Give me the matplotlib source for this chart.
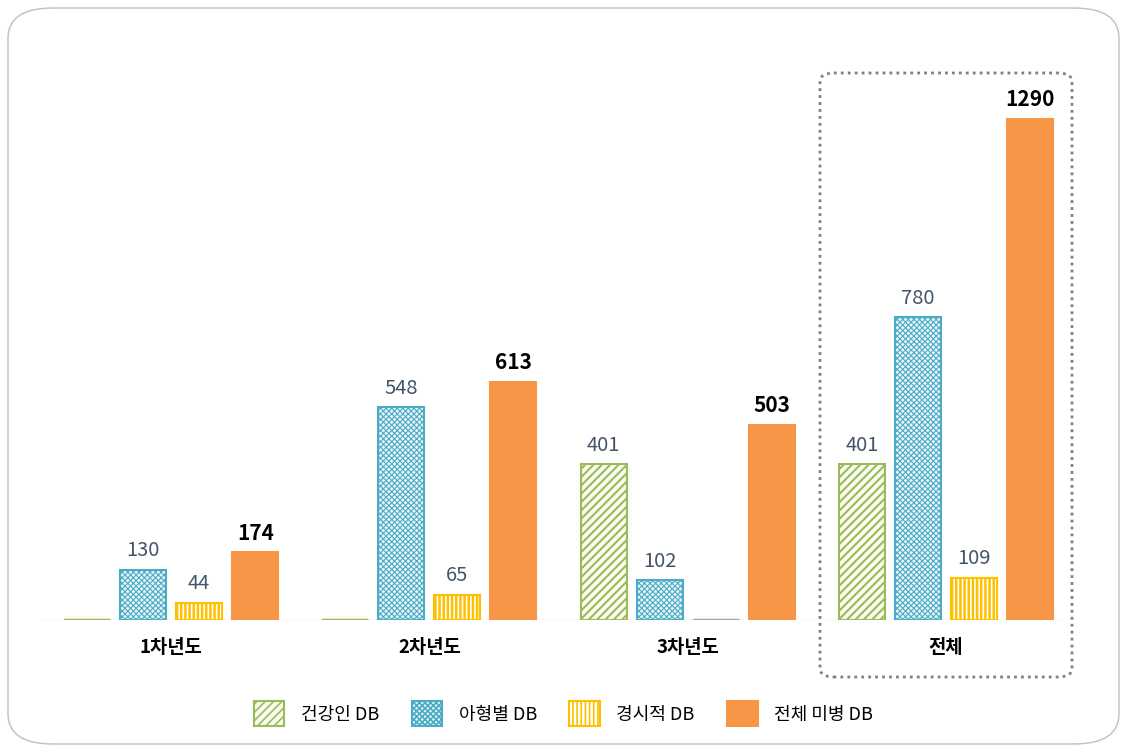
import matplotlib.pyplot as plt
from matplotlib.patches import FancyBboxPatch
import numpy as np

plt.rcParams['font.family'] = ['Noto Sans CJK KR', 'DejaVu Sans']
plt.rcParams['hatch.linewidth'] = 1.2

# data
categories = ['1차년도', '2차년도', '3차년도', '전체']
series_names = ['건강인 DB', '아형별 DB', '경시적 DB', '전체 미병 DB']
healthy = [0, 0, 401, 401]
subtype = [130, 548, 102, 780]
longitudinal = [44, 65, 0, 109]
total = [174, 613, 503, 1290]

edge_colors = ['#9BBB59', '#4BACC6', '#FFC000', '#F79646']
face_colors = ['#FAFCF2', '#EAF5F8', '#FFFFFF', '#F79646']
hatches = ['////', 'xxxxxx', '||||', None]
hatch_lw = [1.5, 0.8, 1.8, 1.0]

fig = plt.figure(figsize=(11.27, 7.52), dpi=100)
ax = fig.add_axes([0.0373, 0.1755, 0.9166, 0.7231])

x = np.arange(len(categories))
width = 0.178
step = 0.217
all_series = [healthy, subtype, longitudinal, total]
handles = []
for i, vals in enumerate(all_series):
    pos = x + (i - 1.5) * step
    if hatches[i] is None:
        b = ax.bar(pos, vals, width, color=face_colors[i], edgecolor=face_colors[i],
                   linewidth=1.5, label=series_names[i])
    else:
        b = ax.bar(pos, vals, width, color=face_colors[i], edgecolor=edge_colors[i],
                   hatch=hatches[i], linewidth=1.5, label=series_names[i])
    for r in b:
        if hasattr(r, 'set_hatch_linewidth'):
            r.set_hatch_linewidth(hatch_lw[i])
    handles.append(b)
    for p, v in zip(pos, vals):
        if v == 0:
            # zero bars show only as a flat line on the baseline
            ax.hlines(0, p - width / 2, p + width / 2,
                      color=edge_colors[i] if i != 2 else '#A6A6A6',
                      linewidth=2.5, zorder=3)
            continue
        if i == 3:
            ax.text(p, v + 22, str(v), ha='center', va='bottom', fontsize=15,
                    fontweight='bold', color='black')
        else:
            ax.text(p, v + 22, str(v), ha='center', va='bottom', fontsize=14.5,
                    color='#44546A')

ax.axhline(0, color='#D9D9D9', linewidth=1, zorder=0)
ax.set_xlim(-0.5, 3.5)
ax.set_ylim(0, 1400)
ax.set_xticks(x)
ax.set_xticklabels(categories, fontsize=13.5, fontweight='bold')
ax.tick_params(axis='x', length=0, pad=13)
ax.set_yticks([])
for s in ax.spines.values():
    s.set_visible(False)

ax.legend(handles=handles, loc='center', bbox_to_anchor=(0.5, 0.051),
          bbox_transform=fig.transFigure, ncol=4, frameon=False, fontsize=13,
          handlelength=1.7, handleheight=1.7, columnspacing=1.8, handletextpad=0.9)

# dotted box around 전체
fig.patches.append(FancyBboxPatch((820 / 1127, 75 / 752), 252 / 1127, 604 / 752,
                                  boxstyle='round,pad=0,rounding_size=0.012',
                                  transform=fig.transFigure, fill=False,
                                  edgecolor='#7F7F7F', linestyle=(0, (1, 1.5)),
                                  linewidth=2))
# outer frame
fig.patches.append(FancyBboxPatch((8 / 1127, 8 / 752), 1111 / 1127, 736 / 752,
                                  boxstyle='round,pad=0,rounding_size=0.04',
                                  transform=fig.transFigure, fill=False,
                                  edgecolor='#BFBFBF', linewidth=1))

fig.savefig('out.png', dpi=100)
